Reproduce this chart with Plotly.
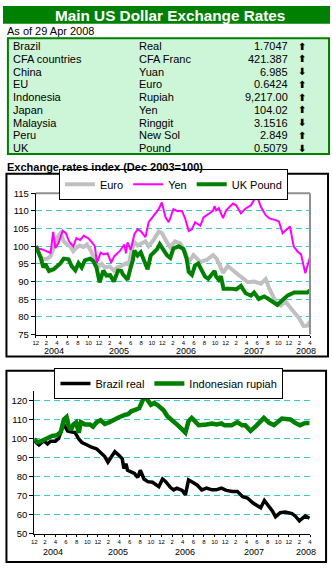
import plotly.graph_objects as go

# ---------------- data ----------------
title_text = "Main US Dollar Exchange Rates"
asof_text = "As of 29 Apr 2008"
countries = ["Brazil", "CFA countries", "China", "EU", "Indonesia", "Japan", "Malaysia", "Peru", "UK"]
currencies = ["Real", "CFA Franc", "Yuan", "Euro", "Rupiah", "Yen", "Ringgit", "New Sol", "Pound"]
rates = ["1.7047", "421.387", "6.985", "0.6424", "9,217.00", "104.02", "3.1516", "2.849", "0.5079"]
direction = ["up", "up", "down", "up", "up", "up", "down", "up", "down"]

index_title = "Exchange rates index (Dec 2003=100)"

# month index: 0 = Dec 2003 ... 52 = Apr 2008
euro_m = [0, 1.25, 2.2, 2.8, 3.4, 4.2, 4.7, 5.3, 5.9, 6.5, 7.1, 7.6, 8.3, 9, 9.7, 10.5, 11.2, 11.8, 12.5, 13.1,
          14, 14.8, 15.4, 16.2, 17.1, 17.6, 18.2, 18.7, 19.3, 19.9, 20.8, 21.4, 22.4, 23.3, 23.9, 24.9, 25.5,
          26.4, 27.4, 28.3, 29, 29.9, 31.2, 32.4, 33.6, 34.3, 34.9, 35.5, 36.4, 37.7, 38.6, 40.2, 41.4, 42.7,
          43.6, 44.3, 45.5, 46.4, 47.4, 48.6, 49.9, 50.8, 51.5, 52]
euro_v = [100, 96.3, 96.5, 97.2, 99.5, 102.8, 103.7, 101.4, 100.5, 100, 98.6, 99.5, 100.2, 99.8, 100.5, 98.6,
          95.9, 94, 95, 94, 94.3, 93.1, 94, 94.4, 95.2, 94.8, 99, 101.2, 100.2, 100.6, 101.4, 100, 101.9, 104.2,
          103.8, 101, 99.7, 101.4, 100.8, 98.4, 95.6, 97.5, 95.6, 96.1, 97.5, 96.5, 94.5, 92.5, 94.4, 93, 91.7,
          89.8, 90, 89.4, 90.7, 88, 84.3, 83.2, 84.3, 82, 79.7, 77.4, 77.5, 78.8]

yen_m = [0, 0.6, 1.25, 2.2, 2.8, 3.3, 3.7, 4.3, 5.1, 5.7, 6.3, 7.1, 7.7, 8.4, 9.1, 9.9, 10.5, 11.2, 11.6, 12.3,
         12.9, 13.6, 14.3, 14.9, 15.9, 16.8, 17.1, 17.4, 18, 18.7, 19.3, 19.9, 20.8, 21.4, 22.4, 23.3, 23.9,
         24.6, 25.2, 26.1, 26.8, 27.7, 28.3, 29, 29.6, 30.2, 31.2, 31.8, 32.7, 33.6, 33.9, 34.2, 34.7, 35.5,
         36.1, 37.4, 38, 38.9, 39.8, 40.8, 41.9, 42.7, 43.6, 44.3, 45.5, 46.1, 46.8, 47.4, 48.2, 48.9, 49.6,
         50.3, 51.1, 52]
yen_v = [100, 99.3, 99.1, 98.6, 98.1, 104.1, 99.5, 100.9, 104.4, 103.7, 101.4, 100, 102.3, 101.8, 103, 102.3,
         101.4, 100, 95.3, 98.2, 97.7, 98, 95.4, 97.2, 98.6, 100.5, 98, 101.1, 99, 103.4, 104.8, 104.3, 102.6,
         106.8, 108.7, 110.5, 112.4, 108.2, 106.8, 110.5, 110, 110, 108, 104.3, 104.8, 106.8, 105.8, 108.2,
         109.1, 110, 111.4, 110.2, 110.8, 108, 110.2, 112.1, 111.6, 109.3, 110.7, 111.6, 114.5, 111.1, 108.8,
         107.9, 107.4, 107, 103.7, 104.6, 105.6, 100, 98.6, 97.7, 92.4, 96.9]

gbp_m = [0, 0.3, 0.94, 1.44, 1.8, 2.5, 3.4, 4.7, 5.3, 6.2, 6.8, 7.5, 8.1, 8.7, 9.3, 10.3, 10.9, 11.5, 12.1,
         12.8, 13.4, 14.1, 14.8, 15.6, 16.2, 16.5, 17.1, 17.4, 17.9, 18.4, 18.7, 19.3, 19.9, 20.5, 21.2, 21.8,
         22.4, 23, 23.5, 24.3, 24.9, 25.5, 26.1, 27.1, 28, 28.6, 29, 29.6, 30.2, 30.8, 31.5, 32.1, 32.7, 33.6,
         33.9, 34.2, 34.7, 35.1, 35.6, 37, 38, 38.9, 39.8, 40.8, 41.4, 42.3, 43.3, 44, 44.6, 45.8, 46.8, 47.8,
         49, 50.6, 51.5, 52]
gbp_v = [100, 99, 96.7, 94, 95, 93, 93.5, 95.2, 96.5, 96.3, 94.4, 93.2, 95.2, 94, 96, 96.5, 95.8, 94, 89.8,
         93.1, 91.7, 91.8, 90, 93.1, 93, 92.1, 90.8, 90.5, 93.5, 96, 98.8, 97.4, 98.3, 96, 93.5, 97.4, 98.3,
         99.2, 100.6, 98.8, 97.4, 96.7, 99.4, 100, 99.2, 96.5, 92.8, 91.9, 94.6, 95.1, 93.3, 91.4, 90.8, 92.4,
         93, 91.4, 90.5, 91.5, 88, 88, 87.8, 88.8, 86.7, 86, 86.9, 85.1, 85.8, 85.2, 84.5, 83.4, 84.8, 86.1,
         86.9, 86.9, 86.9, 87.5]

brl_m = [0, 0.9, 1.8, 2.5, 3.1, 4, 4.6, 5.3, 5.7, 6.3, 7.1, 7.7, 8.4, 9, 9.9, 10.8, 11.8, 12.7, 13.3, 13.9,
         14.5, 15.2, 16, 16.6, 16.9, 17.3, 17.6, 18.3, 18.9, 19.5, 20, 20.7, 21.4, 22.3, 22.9, 23.5, 24.2,
         24.8, 25.7, 26.3, 26.9, 27.9, 28.5, 29.1, 29.7, 30.7, 31.6, 32.5, 33.5, 34.3, 35.3, 36.2, 37.4, 38.3,
         39.3, 40.2, 41.2, 42.1, 42.7, 43.4, 44.3, 44.9, 45.5, 46.4, 47.3, 48.6, 49.2, 50, 51.1, 51.9]
brl_v = [98.8, 96.6, 98.8, 97.1, 98.6, 98.6, 100, 105.7, 106.9, 104, 103.4, 103.1, 99.7, 97.9, 96.7, 95.4,
         94.5, 92.3, 90.5, 87.6, 90, 93.1, 91.1, 89.3, 84.2, 86.8, 83.3, 82.5, 81.6, 79.5, 83.3, 78.7, 77.3,
         77, 75.9, 74.7, 78.7, 77.3, 74.2, 73, 73.9, 72.7, 70.4, 78.2, 77.3, 75.6, 73, 73.9, 73, 73, 73.9, 72.7,
         72.2, 72.2, 69.4, 68.7, 66.2, 64.4, 63.6, 67.4, 64.4, 61.9, 58.9, 61, 61.3, 60.5, 59.3, 56.7, 59.3,
         58.1]

idr_m = [0, 0.6, 1.3, 2.2, 2.8, 3.4, 4.3, 5, 5.6, 6.1, 6.5, 6.9, 7.4, 7.9, 8.4, 8.8, 9.6, 10.5, 11.1, 11.8,
         12.5, 13.3, 14.2, 15.2, 16.1, 17.2, 17.7, 18.3, 19.2, 19.8, 20.7, 21.3, 22, 22.6, 23.2, 23.8, 24.4,
         25.1, 25.7, 26.3, 26.9, 27.9, 28.5, 29.1, 29.7, 30.3, 31, 32.5, 33.5, 34.4, 35.3, 35.9, 37.2, 38.3,
         39.2, 39.8, 40.8, 41.8, 43.3, 44.3, 45.2, 46.7, 48.3, 49.2, 50.1, 51.1, 51.9]
idr_v = [99.7, 98, 98.6, 99.7, 100.5, 101.4, 101.7, 103.4, 110, 111.3, 106.5, 104.5, 107.4, 108.5, 103,
         108.6, 107.4, 107.4, 106.2, 108.6, 109.6, 107.7, 108.6, 110.3, 111.3, 112.5, 112.8, 114.3, 115.5,
         115.9, 121.6, 120.5, 117.7, 118.6, 117.7, 116, 114.8, 111.7, 110, 109.1, 107.4, 104.8, 103.1, 109.1,
         110.8, 109.1, 107, 107.4, 107.9, 107.4, 107.9, 106.9, 106.9, 108.6, 106.9, 106.9, 104, 106.5, 110.8,
         108.2, 107, 110.5, 110, 108.2, 106.9, 108.2, 108.2]

month_tickvals = list(range(0, 53, 2))
month_ticktext = ["12", "2", "4", "6", "8", "10", "12", "2", "4", "6", "8", "10", "12", "2", "4", "6", "8",
                  "10", "12", "2", "4", "6", "8", "10", "12", "2", "4"]
year_labels = ["2004", "2005", "2006", "2007", "2008"]
year_pos = [3.5, 15.8, 28.4, 41.4, 51.3]

# ---------------- layout helpers ----------------
W, H = 332, 570
FONT = "Liberation Sans, Arial, sans-serif"
GREEN = "#008000"


def px(x):
    return x / W


def py(y):
    return 1 - y / H


fig = go.Figure()

fig.add_trace(go.Scatter(x=euro_m, y=euro_v, name="Euro", mode="lines",
                         line=dict(color="#C0C0C0", width=4), xaxis="x", yaxis="y", legend="legend"))
fig.add_trace(go.Scatter(x=yen_m, y=yen_v, name="Yen", mode="lines",
                         line=dict(color="#FF00FF", width=2), xaxis="x", yaxis="y", legend="legend"))
fig.add_trace(go.Scatter(x=gbp_m, y=gbp_v, name="UK Pound", mode="lines",
                         line=dict(color=GREEN, width=4), xaxis="x", yaxis="y", legend="legend"))
fig.add_trace(go.Scatter(x=brl_m, y=brl_v, name="Brazil real", mode="lines",
                         line=dict(color="black", width=3.5), xaxis="x2", yaxis="y2", legend="legend2"))
fig.add_trace(go.Scatter(x=idr_m, y=idr_v, name="Indonesian rupiah", mode="lines",
                         line=dict(color=GREEN, width=4.5), xaxis="x2", yaxis="y2", legend="legend2"))

axis_common = dict(showline=True, linecolor="black", linewidth=1, ticks="outside", tickcolor="black",
                   zeroline=False, fixedrange=True)

fig.update_layout(
    width=W, height=H, margin=dict(l=0, r=0, t=0, b=0),
    paper_bgcolor="white", plot_bgcolor="white",
    font=dict(family=FONT, color="black", size=11),
    hovermode=False,
    xaxis=dict(domain=[px(33.3), px(311.7)], range=[0, 52], tickvals=month_tickvals, ticktext=month_ticktext,
               ticklen=2, tickfont=dict(size=6), showgrid=False, anchor="y", **axis_common),
    yaxis=dict(domain=[py(335), py(191)], range=[75, 115], tickvals=list(range(75, 116, 5)),
               ticklen=4, tickfont=dict(size=9.5), showgrid=True, gridcolor="#33CCCC", griddash="6px,4px",
               gridwidth=1, anchor="x", **axis_common),
    xaxis2=dict(domain=[px(31.7), px(311.7)], range=[0, 52], tickvals=month_tickvals, ticktext=month_ticktext,
                ticklen=2, tickfont=dict(size=6), showgrid=False, anchor="y2", **axis_common),
    yaxis2=dict(domain=[py(538), py(392.5)], range=[50, 125], tickvals=list(range(50, 121, 10)),
                ticklen=4, tickfont=dict(size=9.5), showgrid=True, gridcolor="#33CCCC", griddash="6px,4px",
                gridwidth=1, anchor="x2", **axis_common),
    legend=dict(orientation="h", x=px(173), y=py(166), xanchor="center", yanchor="top",
                bordercolor="black", borderwidth=1, bgcolor="white", font=dict(size=11),
                itemwidth=30, tracegroupgap=0),
    legend2=dict(orientation="h", x=px(168.5), y=py(369), xanchor="center", yanchor="top",
                 bordercolor="black", borderwidth=1, bgcolor="white", font=dict(size=11),
                 itemwidth=30, tracegroupgap=0),
)

shapes = []
# title bar
shapes.append(dict(type="rect", xref="paper", yref="paper", x0=0, x1=1, y0=py(18), y1=1,
                   fillcolor=GREEN, line=dict(width=0), layer="below"))
# table box
shapes.append(dict(type="rect", xref="paper", yref="paper", x0=px(5), x1=px(331), y0=py(151), y1=py(33),
                   fillcolor="#CDF5D7", line=dict(color=GREEN, width=2), layer="below"))
# chart frames
shapes.append(dict(type="rect", xref="paper", yref="paper", x0=px(3.5), x1=px(330), y0=py(357.5), y1=py(171),
                   line=dict(color="black", width=2), fillcolor="rgba(0,0,0,0)"))
shapes.append(dict(type="rect", xref="paper", yref="paper", x0=px(3.5), x1=px(328), y0=py(567), y1=py(372),
                   line=dict(color="black", width=2), fillcolor="rgba(0,0,0,0)"))
# plot-area border of chart 1 (top and right)
shapes.append(dict(type="line", xref="x domain", yref="y domain", x0=0, x1=1, y0=1, y1=1,
                   line=dict(color="#909090", width=2)))
shapes.append(dict(type="line", xref="x domain", yref="y domain", x0=1, x1=1, y0=0, y1=1,
                   line=dict(color="#909090", width=2)))
fig.update_layout(shapes=shapes)

ann = []
ann.append(dict(text="<b>" + title_text + "</b>", xref="paper", yref="paper", x=px(170), y=py(9.5),
                xanchor="center", yanchor="middle", showarrow=False,
                font=dict(size=15.3, color="white", family=FONT)))
ann.append(dict(text=asof_text, xref="paper", yref="paper", x=px(2), y=py(26), xanchor="left",
                yanchor="middle", showarrow=False, font=dict(size=11)))
row_h = 13.0
for i in range(len(countries)):
    yc = py(41 + row_h * i)
    ann.append(dict(text=countries[i], xref="paper", yref="paper", x=px(8.5), y=yc, xanchor="left",
                    yanchor="middle", showarrow=False, font=dict(size=11)))
    ann.append(dict(text=currencies[i], xref="paper", yref="paper", x=px(136.5), y=yc, xanchor="left",
                    yanchor="middle", showarrow=False, font=dict(size=11)))
    ann.append(dict(text=rates[i], xref="paper", yref="paper", x=px(291), y=yc, xanchor="right",
                    yanchor="middle", showarrow=False, font=dict(size=11)))
    ann.append(dict(text="<b>" + ("⬆" if direction[i] == "up" else "⬇") + "</b>", xref="paper", yref="paper",
                    x=px(303.5), y=yc, xanchor="center", yanchor="middle", showarrow=False,
                    font=dict(size=10, family="DejaVu Sans")))
ann.append(dict(text="<b>" + index_title + "</b>", xref="paper", yref="paper", x=px(2.5), y=py(164),
                xanchor="left", yanchor="middle", showarrow=False, font=dict(size=11)))
for lab, pos in zip(year_labels, year_pos):
    ann.append(dict(text=lab, xref="x", yref="paper", x=pos, y=py(352), xanchor="center", yanchor="middle",
                    showarrow=False, font=dict(size=9)))
    ann.append(dict(text=lab, xref="x2", yref="paper", x=pos, y=py(557), xanchor="center", yanchor="middle",
                    showarrow=False, font=dict(size=9)))
fig.update_layout(annotations=ann)

fig.write_html("out.html")
